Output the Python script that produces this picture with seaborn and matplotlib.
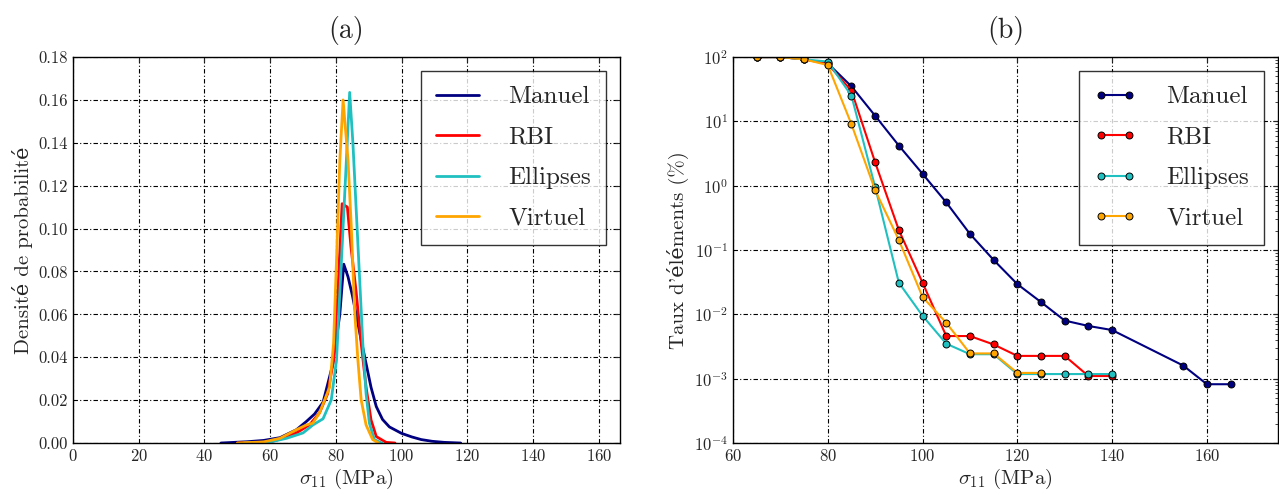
import numpy as np
import pandas as pd
import matplotlib
matplotlib.use("Agg")
import matplotlib.pyplot as plt
import seaborn as sns
from matplotlib.ticker import FormatStrFormatter, LogLocator, LogFormatterSciNotation

# ---------------- data (a): probability densities ----------------
manuel_x = [45, 53, 58, 63, 68, 71, 73.5, 76.1, 79.1, 81.2, 82.4, 83.7, 85, 86.2, 87.7, 89.2,
            90.7, 92.3, 94.2, 96.3, 100, 103.2, 106, 109.3, 113, 118]
manuel_d = [0, 0.0006, 0.0012, 0.0025, 0.0062, 0.010, 0.0135, 0.019, 0.037, 0.060, 0.0834,
            0.0775, 0.069, 0.0597, 0.048, 0.037, 0.026, 0.017, 0.011, 0.0075, 0.0045, 0.0028,
            0.0016, 0.0008, 0.0003, 0]
rbi_x = [50, 60, 63, 68, 72, 75, 77.5, 79.3, 80.6, 81.9, 83.0, 83.5, 84.6, 86.2, 87.7, 89.2,
         90.7, 92.3, 95.3, 98]
rbi_d = [0, 0.0005, 0.0018, 0.0047, 0.0085, 0.014, 0.023, 0.0387, 0.07, 0.1116, 0.1105, 0.110,
         0.0914, 0.070, 0.0465, 0.026, 0.0108, 0.003, 0.0003, 0]
ell_x = [52, 60, 65, 70, 73, 76.1, 78.6, 80.2, 81.2, 82.2, 83.2, 84.2, 85.2, 86.2, 87.2, 88.2,
         89.2, 90.2, 91.7, 94]
ell_d = [0, 0.0005, 0.0022, 0.0047, 0.0084, 0.0113, 0.0201, 0.0387, 0.07, 0.1007, 0.1318, 0.1635,
         0.1395, 0.1085, 0.0775, 0.0465, 0.023, 0.0093, 0.0016, 0]
virt_x = [50, 58, 63, 68, 71, 73, 75, 78.1, 79.3, 80.2, 81.2, 82.2, 83.7, 84.7, 85.7, 86.7,
          87.7, 89.2, 91.2, 93]
virt_d = [0, 0.0005, 0.0022, 0.0062, 0.0084, 0.0093, 0.014, 0.026, 0.0465, 0.0853, 0.1318, 0.16,
          0.1318, 0.1007, 0.062, 0.0387, 0.0201, 0.0084, 0.0016, 0]

# ---------------- data (b): element rate (%) ----------------
manuel_s = [65, 70, 75, 80, 85, 90, 95, 100, 105, 110, 115, 120, 125, 130, 135, 140, 155, 160, 165]
manuel_t = [100, 100, 92, 80, 35, 12.2, 4.2, 1.53, 0.55, 0.178, 0.07, 0.0295, 0.0155, 0.008,
            0.0066, 0.0057, 0.0016, 0.00082, 0.00082]
rbi_s = [65, 70, 75, 80, 85, 90, 95, 100, 105, 110, 115, 120, 125, 130, 135, 140]
rbi_t = [100, 100, 92, 78, 30, 2.3, 0.204, 0.031, 0.0046, 0.0046, 0.0034, 0.00226, 0.00226,
         0.00226, 0.0011, 0.0011]
ell_s = [65, 70, 75, 80, 85, 90, 95, 100, 105, 110, 115, 120, 125, 130, 135, 140]
ell_t = [100, 100, 92, 85, 25, 0.95, 0.031, 0.0095, 0.0035, 0.0024, 0.0024, 0.00118, 0.00118,
         0.00118, 0.00118, 0.00118]
virt_s = [65, 70, 75, 80, 85, 90, 95, 100, 105, 110, 115, 120, 125]
virt_t = [100, 100, 92, 75, 9.0, 0.85, 0.143, 0.0186, 0.0074, 0.00247, 0.00247, 0.00123, 0.00123]

labels = ["Manuel", "RBI", "Ellipses", "Virtuel"]
colors = ["#000080", "#FF0000", "#20C0C0", "#FFA500"]
xticks_a = [0, 20, 40, 60, 80, 100, 120, 140, 160]
yticks_a = [0.00, 0.02, 0.04, 0.06, 0.08, 0.10, 0.12, 0.14, 0.16, 0.18]
xticks_b = [60, 80, 100, 120, 140, 160]
yticks_b = [1e-4, 1e-3, 1e-2, 1e-1, 1e0, 1e1, 1e2]

sns.set_style("white")
plt.rcParams["font.family"] = ["cmr10", "DejaVu Serif"]
plt.rcParams["mathtext.fontset"] = "cm"
plt.rcParams["axes.formatter.use_mathtext"] = True
plt.rcParams["axes.unicode_minus"] = False

fig = plt.figure(figsize=(12.79, 4.99), dpi=100)
ax1 = fig.add_axes([0.0571, 0.1122, 0.4277, 0.7735])
ax2 = fig.add_axes([0.5731, 0.1122, 0.4261, 0.7735])

grid_kw = dict(color="k", linestyle=(0, (4, 2, 1, 2)), linewidth=0.8)
leg_kw = dict(loc="upper right", fontsize=18, frameon=True, fancybox=False,
              handlelength=1.7, handletextpad=1.2, borderpad=0.6, labelspacing=0.72,
              borderaxespad=0.55)

# ---- panel (a)
for lab, col, xs, ds in zip(labels, colors,
                            [manuel_x, rbi_x, ell_x, virt_x],
                            [manuel_d, rbi_d, ell_d, virt_d]):
    df = pd.DataFrame({"x": xs, "d": ds})
    sns.lineplot(data=df, x="x", y="d", ax=ax1, color=col, linewidth=2, label=lab)
ax1.set_xlim(0, 166.5)
ax1.set_ylim(0, 0.18)
ax1.set_xticks(xticks_a)
ax1.set_yticks(yticks_a)
ax1.yaxis.set_major_formatter(FormatStrFormatter("%.2f"))
ax1.grid(True, **grid_kw)
ax1.set_xlabel(r"$\sigma_{11}$ (MPa)", fontsize=15, labelpad=2)
ax1.set_ylabel("Densité de probabilité", fontsize=15)
ax1.set_title("(a)", fontsize=20, pad=14)
leg1 = ax1.legend(**leg_kw)
leg1.get_frame().set_edgecolor("k")
leg1.get_frame().set_linewidth(1.0)

# ---- panel (b)
for lab, col, xs, ts in zip(labels, colors,
                            [manuel_s, rbi_s, ell_s, virt_s],
                            [manuel_t, rbi_t, ell_t, virt_t]):
    df = pd.DataFrame({"s": xs, "t": ts})
    sns.lineplot(data=df, x="s", y="t", ax=ax2, color=col, linewidth=1.5, marker="o",
                 markersize=5, markerfacecolor=col, markeredgecolor="k",
                 markeredgewidth=0.7, label=lab)
ax2.set_yscale("log")
ax2.set_xlim(60, 175)
ax2.set_ylim(1e-4, 1e2)
ax2.set_xticks(xticks_b)
ax2.set_yticks(yticks_b)
ax2.yaxis.set_major_formatter(LogFormatterSciNotation())
ax2.yaxis.set_minor_locator(LogLocator(base=10, subs=np.arange(2, 10), numticks=20))
ax2.grid(True, which="major", **grid_kw)
ax2.set_xlabel(r"$\sigma_{11}$ (MPa)", fontsize=15, labelpad=2)
ax2.set_ylabel("Taux d'éléments (%)", fontsize=15)
ax2.set_title("(b)", fontsize=20, pad=14)
leg2 = ax2.legend(numpoints=2, **leg_kw)
leg2.get_frame().set_edgecolor("k")
leg2.get_frame().set_linewidth(1.0)

for ax in (ax1, ax2):
    ax.tick_params(direction="in", top=True, right=True, labelsize=12, which="both")
    for sp in ax.spines.values():
        sp.set_color("k")
        sp.set_linewidth(1.0)

fig.savefig("out.png", dpi=100)
